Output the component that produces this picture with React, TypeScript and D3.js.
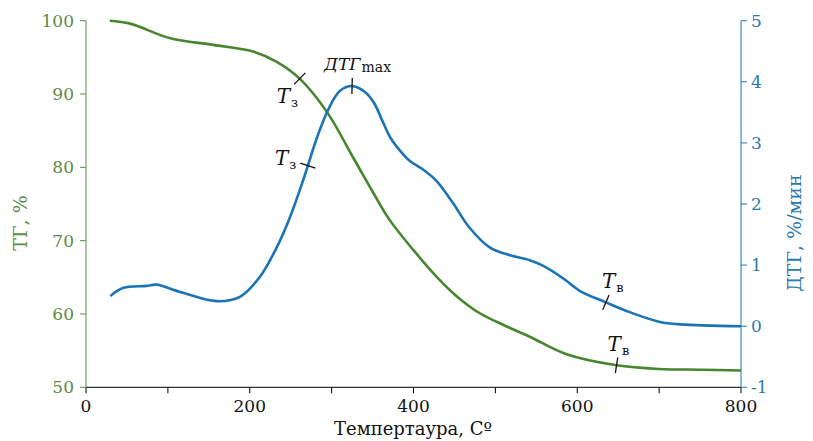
import * as d3 from "d3"

// temperature (C) and TG (%)
const tgTemp = [29, 54, 103, 155, 204, 233, 261, 294, 328, 351, 371, 400, 428, 453, 481, 510, 542, 587, 648, 700, 750, 800]
const tgVal = [100, 99.6, 97.6, 96.7, 95.8, 94.4, 92.1, 87.6, 81.0, 76.5, 72.8, 68.7, 65.1, 62.4, 60.1, 58.5, 56.9, 54.5, 53.0, 52.5, 52.4, 52.3]

// temperature (C) and DTG (%/min)
const dtgTemp = [30, 33, 46, 74, 86, 115, 160, 188, 212, 233, 249, 265, 283, 296, 310, 325, 340, 352, 362, 372, 385, 396, 410, 428, 448, 468, 493, 518, 542, 558, 583, 603, 635, 664, 701, 726, 800]
const dtgVal = [0.49, 0.53, 0.63, 0.66, 0.68, 0.56, 0.41, 0.48, 0.8, 1.29, 1.78, 2.38, 3.12, 3.55, 3.85, 3.93, 3.84, 3.65, 3.36, 3.08, 2.85, 2.7, 2.58, 2.38, 2.02, 1.62, 1.29, 1.16, 1.08, 0.99, 0.78, 0.58, 0.39, 0.23, 0.07, 0.03, 0.0]

const xTicks = [0, 100, 200, 300, 400, 500, 600, 700, 800]
const xLabels = [0, 200, 400, 600, 800]
const tgTicks = [50, 60, 70, 80, 90, 100]
const dtgTicks = [-1, 0, 1, 2, 3, 4, 5]

// markers on the curves: series, temperature, label, subscript
const markSeries = ["tg", "dtg", "dtg", "dtg", "tg"]
const markTemp = [261, 271, 325, 635, 648]
const markMain = ["T", "T", "ДТГ", "T", "T"]
const markSub = ["з", "з", "max", "в", "в"]

const W = 813
const H = 441
const GREEN = "#46862f"
const GREEN_TXT = "#5a8c44"
const BLUE = "#1a74b6"
const BLUE_TXT = "#2d78ad"
const FONT = "'DejaVu Serif', 'Liberation Serif', 'Times New Roman', serif"

// label offsets (px) relative to tick point
const labelOff = [
	[-23, 24],
	[-33, -1],
	[-28, -16],
	[-4, -14],
	[-9, -14],
]

const x = d3.scaleLinear().domain([0, 800]).range([86, 741])
const yTg = d3.scaleLinear().domain([50, 100]).range([387.3, 20.7])
const yDtg = d3.scaleLinear().domain([-1, 5]).range([387.3, 20.7])

const interp = (xs: number[], ys: number[], t: number) => {
	let i = d3.bisectRight(xs, t)
	i = Math.max(1, Math.min(xs.length - 1, i))
	const f = (t - xs[i - 1]) / (xs[i] - xs[i - 1])
	return ys[i - 1] + f * (ys[i] - ys[i - 1])
}

const App = () => {
	const tgData = tgTemp.map((t, i) => [t, tgVal[i]] as [number, number])
	const dtgData = dtgTemp.map((t, i) => [t, dtgVal[i]] as [number, number])

	const tgLine = d3
		.line<[number, number]>()
		.x((d) => x(d[0]))
		.y((d) => yTg(d[1]))
		.curve(d3.curveCatmullRom.alpha(0.5))
	const dtgLine = d3
		.line<[number, number]>()
		.x((d) => x(d[0]))
		.y((d) => yDtg(d[1]))
		.curve(d3.curveCatmullRom.alpha(0.5))

	const marks = markTemp.map((t, i) => {
		const isTg = markSeries[i] === "tg"
		const xs = isTg ? tgTemp : dtgTemp
		const ys = isTg ? tgVal : dtgVal
		const ys2 = isTg ? yTg : yDtg
		const px = x(t)
		const py = ys2(interp(xs, ys, t))
		const dpx = x(t + 8) - x(t - 8)
		const dpy = ys2(interp(xs, ys, t + 8)) - ys2(interp(xs, ys, t - 8))
		const len = Math.hypot(dpx, dpy)
		// normal to the curve
		const nx = -dpy / len
		const ny = dpx / len
		return { px, py, nx, ny, i }
	})

	return (
		<svg width={W} height={H} style={{ position: "absolute", left: 0, top: 0, background: "#fff", fontFamily: FONT }}>
			{/* x axis */}
			<line x1={x(0)} x2={x(800)} y1={yTg(50)} y2={yTg(50)} stroke="#000" strokeWidth={1} />
			{xTicks.map((t) => (
				<line key={t} x1={x(t)} x2={x(t)} y1={yTg(50)} y2={yTg(50) + 6} stroke="#000" strokeWidth={1} />
			))}
			{xLabels.map((t) => (
				<text key={t} x={x(t)} y={412} textAnchor="middle" fontSize={17} fill="#111">
					{t}
				</text>
			))}
			<text x={413} y={435} textAnchor="middle" fontSize={18} fill="#111">
				Темпертаура, Сº
			</text>

			{/* left axis */}
			<line x1={x(0)} x2={x(0)} y1={yTg(50)} y2={yTg(100)} stroke={GREEN_TXT} strokeWidth={1} />
			{tgTicks.map((t) => (
				<g key={t}>
					<line x1={x(0) - 6} x2={x(0)} y1={yTg(t)} y2={yTg(t)} stroke={GREEN_TXT} strokeWidth={1} />
					<text x={74} y={yTg(t) + 6} textAnchor="end" fontSize={17} fill={GREEN_TXT}>
						{t}
					</text>
				</g>
			))}
			<text transform="translate(27,223) rotate(-90)" textAnchor="middle" fontSize={19} fill={GREEN_TXT}>
				ТГ, %
			</text>

			{/* right axis */}
			<line x1={x(800)} x2={x(800)} y1={yDtg(-1)} y2={yDtg(5)} stroke={BLUE} strokeWidth={1} />
			{dtgTicks.map((t) => (
				<g key={t}>
					<line x1={x(800)} x2={x(800) + 6} y1={yDtg(t)} y2={yDtg(t)} stroke={BLUE} strokeWidth={1} />
					<text x={751} y={yDtg(t) + 6} textAnchor="start" fontSize={17} fill={BLUE_TXT}>
						{t}
					</text>
				</g>
			))}
			<text transform="translate(801,233) rotate(-90)" textAnchor="middle" fontSize={19} fill={BLUE_TXT}>
				ДТГ, %/мин
			</text>

			{/* curves */}
			<path d={tgLine(tgData) ?? ""} fill="none" stroke={GREEN} strokeWidth={2.6} />
			<path d={dtgLine(dtgData) ?? ""} fill="none" stroke={BLUE} strokeWidth={2.6} />

			{/* markers */}
			{marks.map((m) => (
				<g key={m.i}>
					<line
						x1={m.px - m.nx * 8}
						y1={m.py - m.ny * 8}
						x2={m.px + m.nx * 8}
						y2={m.py + m.ny * 8}
						stroke="#111"
						strokeWidth={1.3}
					/>
					<text x={m.px + labelOff[m.i][0]} y={m.py + labelOff[m.i][1]} fill="#111">
						<tspan fontStyle="italic" fontSize={markMain[m.i] === "T" ? 20 : 17}>
							{markMain[m.i]}
						</tspan>
						<tspan fontSize={markSub[m.i] === "max" ? 14 : 13} dy={markSub[m.i] === "max" ? 2 : 4} dx={1}>
							{markSub[m.i]}
						</tspan>
					</text>
				</g>
			))}
		</svg>
	)
}

export default App
